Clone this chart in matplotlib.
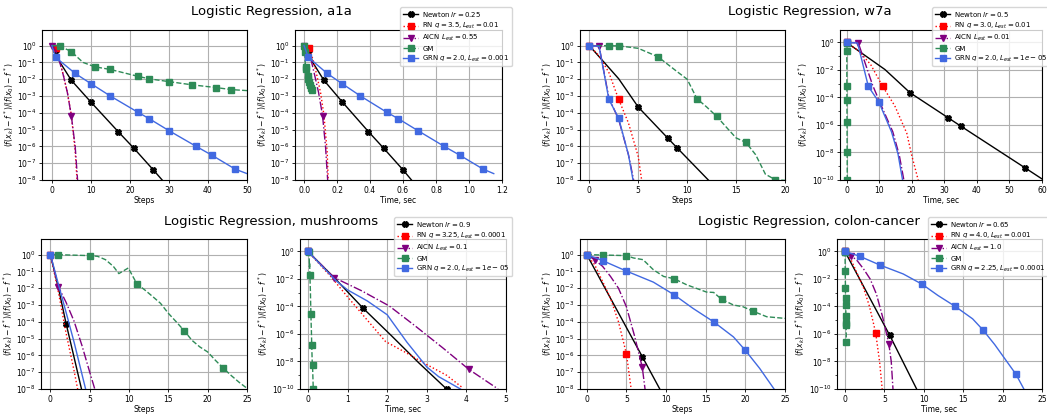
import matplotlib
matplotlib.use("Agg")
import matplotlib.pyplot as plt
from matplotlib.ticker import NullLocator, NullFormatter, FixedLocator

# ---------------- a1a ----------------
a1a_newton_y = [1.0, 0.56, 0.11, 8.7e-3, 4.4e-4, 7.6e-6, 7.9e-7, 4.0e-8, 3.5e-9]
a1a_newton_steps = [0, 1, 2, 5, 10, 17, 21, 26, 30]
a1a_newton_time = [0, 0.032, 0.05, 0.12, 0.232, 0.39, 0.482, 0.6, 0.69]

a1a_rn_y = [1.0, 0.7, 0.14, 1.6e-2, 1.6e-3, 7.9e-5, 5.0e-7, 3.2e-9]
a1a_rn_steps = [0, 1, 2, 3, 4, 5, 6, 6.6]
a1a_rn_time = [0, 0.03, 0.055, 0.078, 0.1, 0.12, 0.14, 0.148]

a1a_aicn_y = [1.0, 0.5, 0.11, 1.6e-2, 1.6e-3, 6.9e-5, 1.0e-6, 5.0e-9]
a1a_aicn_steps = [0, 1, 2, 3, 4, 5, 6, 6.7]
a1a_aicn_time = [0, 0.025, 0.045, 0.065, 0.088, 0.112, 0.13, 0.145]

a1a_gm_y = [1.0, 0.97, 0.44, 0.1, 5.5e-2, 3.8e-2, 1.5e-2, 1.05e-2, 7.2e-3, 4.6e-3, 3.2e-3, 2.4e-3, 2.1e-3]
a1a_gm_steps = [0, 2, 5, 8, 11, 15, 22, 25, 30, 36, 42, 46, 50]
a1a_gm_time = [0, 0.002, 0.005, 0.007, 0.01, 0.014, 0.022, 0.026, 0.032, 0.038, 0.044, 0.048, 0.052]

a1a_grn_y = [1.0, 0.2, 2.2e-2, 5.5e-3, 1.0e-3, 1.1e-4, 4.4e-5, 8.7e-6, 1.0e-6, 3.0e-7, 4.4e-8, 2.4e-8]
a1a_grn_steps = [0, 1, 6, 10, 15, 22, 25, 30, 37, 41, 47, 50]
a1a_grn_time = [0, 0.026, 0.14, 0.23, 0.342, 0.5, 0.572, 0.69, 0.85, 0.944, 1.086, 1.15]

# ---------------- w7a ----------------
w7a_newton_y = [1.0, 1.07e-2, 2.2e-4, 3.2e-6, 7.9e-7, 7.9e-10, 1.0e-10]
w7a_newton_steps = [0, 3, 5, 8, 9, 14, 15.5]
w7a_newton_time = [0, 11.8, 19.5, 31.3, 35.2, 54.7, 60.5]

w7a_rn_y = [1.0, 0.25, 2.5e-2, 6.3e-4, 2.5e-5, 2.5e-7, 6.3e-9, 1.0e-10]
w7a_rn_steps = [0, 1, 2, 3, 4, 5, 5.4, 5.95]
w7a_rn_time = [0, 3.7, 7.4, 11.1, 14.8, 18.5, 20, 22]

w7a_aicn_y = [1.0, 0.95, 7.9e-4, 4.0e-5, 3.2e-7, 6.3e-9, 1.0e-10]
w7a_aicn_steps = [0, 1, 2, 3, 4, 4.6, 4.9]
w7a_aicn_time = [0, 3.6, 8.0, 10.3, 14.2, 16.2, 17.6]

w7a_gm_y = [1.0, 1.0, 0.98, 0.97, 0.69, 0.22, 2.75e-2, 1.0e-2, 6.9e-4, 2.2e-4, 6.3e-5, 1.4e-5,
            3.2e-6, 1.74e-6, 3.2e-7, 2.2e-8, 1.05e-8, 9.5e-9, 1.0e-9, 1.0e-10]
w7a_gm_steps = [0, 1, 2, 3, 5, 7, 9, 10, 11, 12, 13, 14, 15, 16, 17, 18, 19, 20, 21, 22]
w7a_gm_time = [0, 0.01, 0.02, 0.03, 0.05, 0.07, 0.09, 0.1, 0.11, 0.12, 0.13, 0.14,
               0.15, 0.16, 0.17, 0.18, 0.19, 0.2, 0.21, 0.22]

w7a_grn_y = [1.0, 0.9, 6.3e-4, 4.8e-5, 3.2e-7, 7.9e-9, 1.0e-10]
w7a_grn_steps = [0, 1, 2, 3, 4, 4.5, 4.8]
w7a_grn_time = [0, 3.4, 6.7, 9.9, 13.8, 15.8, 17.2]

# ---------------- mushrooms ----------------
mush_newton_y = [1.0, 1.1e-2, 7.6e-5, 7.9e-7, 7.9e-9, 1.0e-10]
mush_newton_steps = [0, 1, 2, 3, 4, 5]
mush_newton_time = [0, 0.68, 1.39, 2.1, 2.8, 3.5]

mush_rn_steps_y = [1.0, 6.3e-3, 2.0e-5, 1.26e-7, 7.9e-9]
mush_rn_steps = [0, 1, 2, 3, 3.5]
mush_rn_time_y = [1.0, 1.26e-2, 5.0e-4, 1.0e-5, 2.8e-7, 4.0e-8, 7.9e-9, 1.0e-9, 1.26e-10]
mush_rn_time = [0, 0.6, 1.0, 1.5, 1.96, 2.5, 2.92, 3.5, 3.9]

mush_aicn_y = [1.0, 1.26e-2, 1.4e-3, 1.1e-4, 4.0e-6, 1.0e-7, 2.7e-9, 1.0e-10]
mush_aicn_steps = [0, 1, 2, 3, 4, 5, 6, 7]
mush_aicn_time = [0, 0.66, 1.35, 2.05, 2.7, 3.4, 4.06, 4.8]

mush_gm_y = [1.0, 0.99, 0.87, 0.79, 0.5, 0.2, 7.4e-2, 0.16, 1.8e-2, 7.9e-3, 3.2e-3, 1.26e-3, 3.2e-4,
             1.0e-4, 3.0e-5, 7.9e-6, 3.2e-6, 1.6e-6, 5.0e-7, 1.7e-7, 6.3e-8, 2.5e-8, 1.1e-8, 5.6e-9, 1.0e-10]
mush_gm_steps = [0, 1, 5, 6, 7, 8, 8.7, 9.9, 11, 12, 13, 14, 15, 16, 17, 18, 19, 20, 21, 22, 23, 24, 25, 27, 32]
mush_gm_time = [0, 0.005, 0.022, 0.026, 0.03, 0.035, 0.038, 0.043, 0.05, 0.054, 0.058, 0.063, 0.067,
                0.071, 0.076, 0.08, 0.084, 0.088, 0.092, 0.096, 0.1, 0.104, 0.108, 0.116, 0.135]

mush_grn_steps_y = [1.0, 1.8e-2, 3.5e-4, 6.3e-6, 7.9e-8, 1.0e-9]
mush_grn_steps = [0, 1, 2, 3, 4, 5]
mush_grn_time_y = [1.0, 7.9e-3, 1.6e-3, 2.5e-4, 2.5e-5, 2.5e-7, 4.0e-9, 7.9e-10, 1.0e-10]
mush_grn_time = [0, 0.7, 1.0, 1.5, 2.0, 2.5, 3.0, 3.3, 3.85]

# ---------------- colon-cancer ----------------
colon_newton_y = [1.0, 8.5e-7, 1.0e-10]
colon_newton_steps = [0, 7, 11.5]
colon_newton_time = [0, 5.66, 9.1]

colon_rn_y = [1.0, 0.25, 2.5e-2, 2.5e-3, 1.0e-4, 1.26e-6, 1.0e-8, 1.0e-10]
colon_rn_steps = [0, 1, 2, 3, 4, 5, 5.6, 6.0]
colon_rn_time = [0, 0.78, 1.56, 2.34, 3.12, 3.9, 4.4, 4.73]

colon_aicn_y = [1.0, 0.5, 0.2, 5.0e-2, 1.0e-2, 7.9e-4, 1.6e-5, 2.0e-7, 1.0e-8, 1.0e-10]
colon_aicn_steps = [0, 1, 2, 3, 4, 5, 6, 7, 7.35, 7.65]
colon_aicn_time = [0, 0.8, 1.6, 2.4, 3.2, 4.0, 4.8, 5.57, 5.88, 6.1]

colon_gm_y = [1.0, 0.95, 0.87, 0.63, 0.5, 0.126, 5.0e-2, 3.7e-2, 1.6e-2, 5.9e-3, 5.6e-3, 2.2e-3,
              1.0e-3, 7.9e-4, 4.2e-4, 2.0e-4, 1.6e-4, 1.3e-4, 1.9e-5, 6.3e-6, 4.6e-6, 2.5e-7]
colon_gm_steps = [0, 2, 5, 5.9, 7.1, 8.4, 9.7, 11, 12.6, 15.1, 16, 17, 18.5, 19.7, 21, 22.7, 25,
                  27, 33, 38, 40, 46]
colon_gm_time = [0, 0.01, 0.02, 0.024, 0.028, 0.033, 0.038, 0.043, 0.05, 0.06, 0.063, 0.067,
                 0.073, 0.078, 0.083, 0.09, 0.1, 0.107, 0.13, 0.15, 0.158, 0.18]

colon_grn_y = [1.0, 0.44, 0.105, 2.3e-2, 4.1e-3, 6.3e-4, 1.0e-4, 1.26e-5, 2.0e-6, 1.7e-7, 1.17e-9, 1.0e-10]
colon_grn_steps = [0, 2, 5, 8.4, 11, 13.4, 16, 18.5, 20, 21.8, 25, 26.2]
colon_grn_time = [0, 1.9, 4.4, 7.4, 9.8, 11.8, 14.0, 16.2, 17.5, 19.0, 21.7, 22.7]

# legend labels
a1a_labels = [r"Newton $lr = 0.25$", r"RN $q = 3.5, L_{est} = 0.01$", r"AICN $L_{est} = 0.55$",
              "GM", r"GRN $q = 2.0, L_{est} = 0.001$"]
w7a_labels = [r"Newton $lr = 0.5$", r"RN $q = 3.0, L_{est} = 0.01$", r"AICN $L_{est} = 0.01$",
              "GM", r"GRN $q = 2.0, L_{est} = 1e-05$"]
mush_labels = [r"Newton $lr = 0.9$", r"RN $q = 3.25, L_{est} = 0.0001$", r"AICN $L_{est} = 0.1$",
               "GM", r"GRN $q = 2.0, L_{est} = 1e-05$"]
colon_labels = [r"Newton $lr = 0.65$", r"RN $q = 4.0, L_{est} = 0.001$", r"AICN $L_{est} = 1.0$",
                "GM", r"GRN $q = 2.25, L_{est} = 0.0001$"]

METHODS = ["newton", "rn", "aicn", "gm", "grn"]
STYLE = {
    "newton": dict(color="black", linestyle="-", marker="X"),
    "rn": dict(color="red", linestyle=":", marker="s"),
    "aicn": dict(color="purple", linestyle="-.", marker="v"),
    "gm": dict(color="seagreen", linestyle="--", marker="s"),
    "grn": dict(color="royalblue", linestyle="-", marker="s"),
}

FS = 5.5
LEG_FS = 5.0
YLABEL = r"$(f(x_k) - f^*) / (f(x_0) - f^*)$"

plt.rcParams["font.family"] = ["DejaVu Sans"]
fig = plt.figure(figsize=(10.47, 4.17), dpi=100)
W, H = 1047.0, 417.0


def make_ax(left, top, right, bottom):
    return fig.add_axes([left / W, 1 - bottom / H, (right - left) / W, (bottom - top) / H])


def draw(ax, series, marks, xlabel, ymin, xlim, labels):
    handles = []
    for m, (x, y), mk, lab in zip(METHODS, series, marks, labels):
        h, = ax.plot(x, y, lw=1.0, ms=4, markevery=mk, label=lab, **STYLE[m])
        handles.append(h)
    ax.set_yscale("log")
    ax.set_ylim(ymin, 8.5 if ymin > 1e-9 else 8)
    ax.set_xlim(*xlim)
    if ymin > 1e-9:
        ax.yaxis.set_major_locator(FixedLocator([10.0 ** k for k in range(-8, 1)]))
        ax.yaxis.set_minor_locator(NullLocator())
    else:
        ax.yaxis.set_major_locator(FixedLocator([10.0 ** k for k in range(-10, 1, 2)]))
        ax.yaxis.set_minor_locator(FixedLocator([10.0 ** k for k in range(-9, 0, 2)]))
    ax.yaxis.set_minor_formatter(NullFormatter())
    ax.grid(True, color="#b0b0b0", lw=0.8)
    ax.tick_params(labelsize=FS, length=2.5, width=0.6, pad=1.5)
    ax.tick_params(which="minor", length=1.5, width=0.5)
    ax.set_xlabel(xlabel, fontsize=FS, labelpad=1)
    ax.set_ylabel(YLABEL, fontsize=FS, labelpad=1)
    return handles


panels = [
    # (ax box px, series, markers, xlabel, ymin, xlim)
    ((42, 30, 247, 180),
     [(a1a_newton_steps, a1a_newton_y), (a1a_rn_steps, a1a_rn_y), (a1a_aicn_steps, a1a_aicn_y),
      (a1a_gm_steps, a1a_gm_y), (a1a_grn_steps, a1a_grn_y)],
     [[1, 3, 4, 5, 6, 7], [1], [0, 5], [1, 2, 4, 5, 6, 7, 8, 9, 10, 11], list(range(1, 11))],
     "Steps", 1e-8, (-2.5, 50), a1a_labels),
    ((295, 30, 502, 180),
     [(a1a_newton_time, a1a_newton_y), (a1a_rn_time, a1a_rn_y), (a1a_aicn_time, a1a_aicn_y),
      (a1a_gm_time, a1a_gm_y), (a1a_grn_time, a1a_grn_y)],
     [[1, 3, 4, 5, 6, 7], [1], [0, 5], [1, 2, 4, 5, 6, 7, 8, 9, 10, 11], list(range(1, 11))],
     "Time, sec", 1e-8, (-0.055, 1.2), a1a_labels),
    ((580, 30, 785, 180),
     [(w7a_newton_steps, w7a_newton_y), (w7a_rn_steps, w7a_rn_y), (w7a_aicn_steps, w7a_aicn_y),
      (w7a_gm_steps, w7a_gm_y), (w7a_grn_steps, w7a_grn_y)],
     [[2, 3, 4, 5], [0, 3], [0, 1], [2, 3, 5, 8, 10, 13, 16, 19], [0, 2, 3]],
     "Steps", 1e-8, (-0.95, 20), w7a_labels),
    ((840, 30, 1042, 180),
     [(w7a_newton_time, w7a_newton_y), (w7a_rn_time, w7a_rn_y), (w7a_aicn_time, w7a_aicn_y),
      (w7a_gm_time, w7a_gm_y), (w7a_grn_time, w7a_grn_y)],
     [[2, 3, 4, 5], [0, 3], [0, 1], [2, 3, 5, 8, 10, 13, 16, 19], [0, 2, 3]],
     "Time, sec", 1e-10, (-2, 60), w7a_labels),
    ((41, 239, 247, 389),
     [(mush_newton_steps, mush_newton_y), (mush_rn_steps, mush_rn_steps_y), (mush_aicn_steps, mush_aicn_y),
      (mush_gm_steps, mush_gm_y), (mush_grn_steps, mush_grn_steps_y)],
     [[2, 5], [0], [0, 1, 6], [1, 2, 8, 14, 19, 23, 24], [0]],
     "Steps", 1e-8, (-1.2, 25), mush_labels),
    ((300, 239, 506, 389),
     [(mush_newton_time, mush_newton_y), (mush_rn_time, mush_rn_time_y), (mush_aicn_time, mush_aicn_y),
      (mush_gm_time, mush_gm_y), (mush_grn_time, mush_grn_time_y)],
     [[2, 5], [0], [0, 1, 6], [1, 2, 8, 14, 19, 23, 24], [0]],
     "Time, sec", 1e-10, (-0.2, 5), mush_labels),
    ((580, 239, 785, 389),
     [(colon_newton_steps, colon_newton_y), (colon_rn_steps, colon_rn_y), (colon_aicn_steps, colon_aicn_y),
      (colon_gm_steps, colon_gm_y), (colon_grn_steps, colon_grn_y)],
     [[0, 1], [0, 5], [0, 1, 7], [0, 1, 2, 7, 11, 14, 17, 18, 19, 20, 21], [0, 1, 2, 4, 6, 8, 10]],
     "Steps", 1e-8, (-0.85, 25), colon_labels),
    ((837, 239, 1042, 389),
     [(colon_newton_time, colon_newton_y), (colon_rn_time, colon_rn_y), (colon_aicn_time, colon_aicn_y),
      (colon_gm_time, colon_gm_y), (colon_grn_time, colon_grn_y)],
     [[0, 1], [0, 5], [0, 1, 7], [0, 1, 2, 7, 11, 14, 17, 18, 19, 20, 21], [0, 1, 2, 4, 6, 8, 10]],
     "Time, sec", 1e-10, (-1, 25), colon_labels),
]

all_handles = []
for box, series, marks, xlabel, ymin, xlim, labels in panels:
    ax = make_ax(*box)
    all_handles.append(draw(ax, series, marks, xlabel, ymin, xlim, labels))

titles = [("Logistic Regression, a1a", 271, 12), ("Logistic Regression, w7a", 810, 12),
          ("Logistic Regression, mushrooms", 271, 221), ("Logistic Regression, colon-cancer", 809, 221)]
for t, x, y in titles:
    fig.text(x / W, 1 - y / H, t, fontsize=9.5, ha="center", va="center")

# legends, anchored at their upper-left corner (px)
legend_spots = [(1, 397, 4), (3, 929, 4), (5, 391, 214), (7, 925, 214)]
for idx, x, y in legend_spots:
    hs = all_handles[idx]
    fig.legend(hs, [h.get_label() for h in hs], loc="upper left",
               bbox_to_anchor=(x / W, 1 - y / H), fontsize=LEG_FS, borderpad=0.35,
               labelspacing=0.3, handlelength=2.2, handletextpad=0.6, framealpha=0.8)

fig.savefig("out.png", dpi=100)
